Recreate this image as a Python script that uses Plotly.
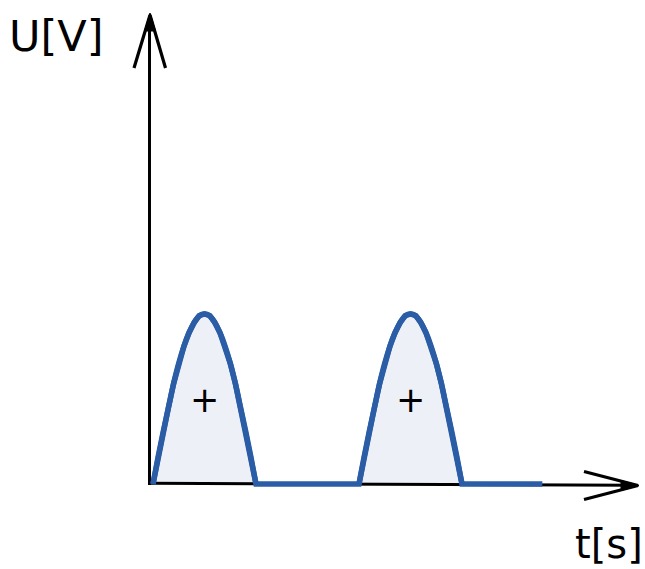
import plotly.graph_objects as go

# Half-wave rectified signal: one positive half-period (phase 0..1) and its voltage
hump_phase = [0.0, 0.05, 0.10, 0.15, 0.20, 0.25, 0.30, 0.35, 0.40, 0.45, 0.50,
              0.55, 0.60, 0.65, 0.70, 0.75, 0.80, 0.85, 0.90, 0.95, 1.0]
hump_voltage = [0.0, 0.16, 0.31, 0.45, 0.59, 0.71, 0.81, 0.89, 0.95, 0.99, 1.0,
                0.99, 0.95, 0.89, 0.81, 0.71, 0.59, 0.45, 0.31, 0.16, 0.0]
pulse_starts = [0.0, 2.0]      # start of each conducting half-period
signal_end = 3.78              # where the trace stops after the last pulse
pulse_sign = "+"

axis_labels = {"y": "U[V]", "x": "t[s]"}

W, H = 645, 569
BLUE = "#2a5da6"
FILL = "#edf1f7"

# pixel <-> data helpers (margins are zero, so the plot area is the whole page)
X0_PX, UNIT_X = 153.0, 103.0
Y0_PX, UNIT_Y = 484.0, 170.0


def tx(px):
    return (px - X0_PX) / UNIT_X


def uy(py):
    return (Y0_PX - py) / UNIT_Y


# assemble the waveform
t_vals, u_vals = [], []
for s in pulse_starts:
    t_vals += [s + p for p in hump_phase]
    u_vals += hump_voltage
t_vals.append(signal_end)
u_vals.append(0.0)

fig = go.Figure()

# light fill under each pulse
for s in pulse_starts:
    fig.add_trace(go.Scatter(x=[s + p for p in hump_phase], y=hump_voltage,
                             mode="lines", fill="tozeroy", fillcolor=FILL,
                             line=dict(width=0, color=FILL, shape="spline"),
                             hoverinfo="skip"))

# axes with open arrow heads
black = dict(color="black", width=3)
fig.add_trace(go.Scatter(x=[tx(150), tx(633)], y=[uy(483.2), uy(485.3)],
                         mode="lines", line=black, hoverinfo="skip"))
fig.add_trace(go.Scatter(x=[tx(149.5), tx(149.5)], y=[uy(485), uy(18)],
                         mode="lines", line=black, hoverinfo="skip"))
fig.add_trace(go.Scatter(x=[tx(134), tx(150), tx(165.5)], y=[uy(68), uy(15), uy(68)],
                         mode="lines", line=dict(color="black", width=3.2),
                         hoverinfo="skip"))
fig.add_trace(go.Scatter(x=[tx(150), tx(144.5), tx(155.5), tx(150)],
                         y=[uy(13), uy(31), uy(31), uy(13)],
                         mode="lines", fill="toself", fillcolor="black",
                         line=dict(color="black", width=1), hoverinfo="skip"))
fig.add_trace(go.Scatter(x=[tx(584), tx(638), tx(584)], y=[uy(471.5), uy(485.5), uy(499.5)],
                         mode="lines", line=dict(color="black", width=3.2),
                         hoverinfo="skip"))
fig.add_trace(go.Scatter(x=[tx(639), tx(621), tx(621), tx(639)],
                         y=[uy(485.5), uy(480.5), uy(490.5), uy(485.5)],
                         mode="lines", fill="toself", fillcolor="black",
                         line=dict(color="black", width=1), hoverinfo="skip"))

# the signal: whole trace, then smoothed pulses on top of it
fig.add_trace(go.Scatter(x=t_vals, y=u_vals, mode="lines",
                         line=dict(color=BLUE, width=5.5), hoverinfo="skip"))
for s in pulse_starts:
    fig.add_trace(go.Scatter(x=[s + p for p in hump_phase], y=hump_voltage,
                             mode="lines",
                             line=dict(color=BLUE, width=5.5, shape="spline"),
                             hoverinfo="skip"))

# "+" inside each pulse
for s in pulse_starts:
    fig.add_annotation(x=s + 0.5, y=uy(400), text=pulse_sign, showarrow=False,
                       xanchor="center", yanchor="middle",
                       font=dict(family="DejaVu Sans", size=35, color="black"))

# axis names
fig.add_annotation(x=tx(7), y=uy(35.5), text=axis_labels["y"], showarrow=False,
                   xanchor="left", yanchor="middle",
                   font=dict(family="DejaVu Sans", size=43, color="black"))
fig.add_annotation(x=1, y=0, xref="paper", yref="paper", text=axis_labels["x"],
                   showarrow=False, xanchor="right", yanchor="bottom",
                   font=dict(family="DejaVu Sans", size=40, color="black"))

fig.update_xaxes(visible=False, range=[tx(0), tx(W)], fixedrange=True)
fig.update_yaxes(visible=False, range=[uy(H), uy(0)], fixedrange=True)
fig.update_layout(width=W, height=H, margin=dict(l=0, r=0, t=0, b=0),
                  paper_bgcolor="white", plot_bgcolor="white", showlegend=False)

fig.write_html("out.html")
